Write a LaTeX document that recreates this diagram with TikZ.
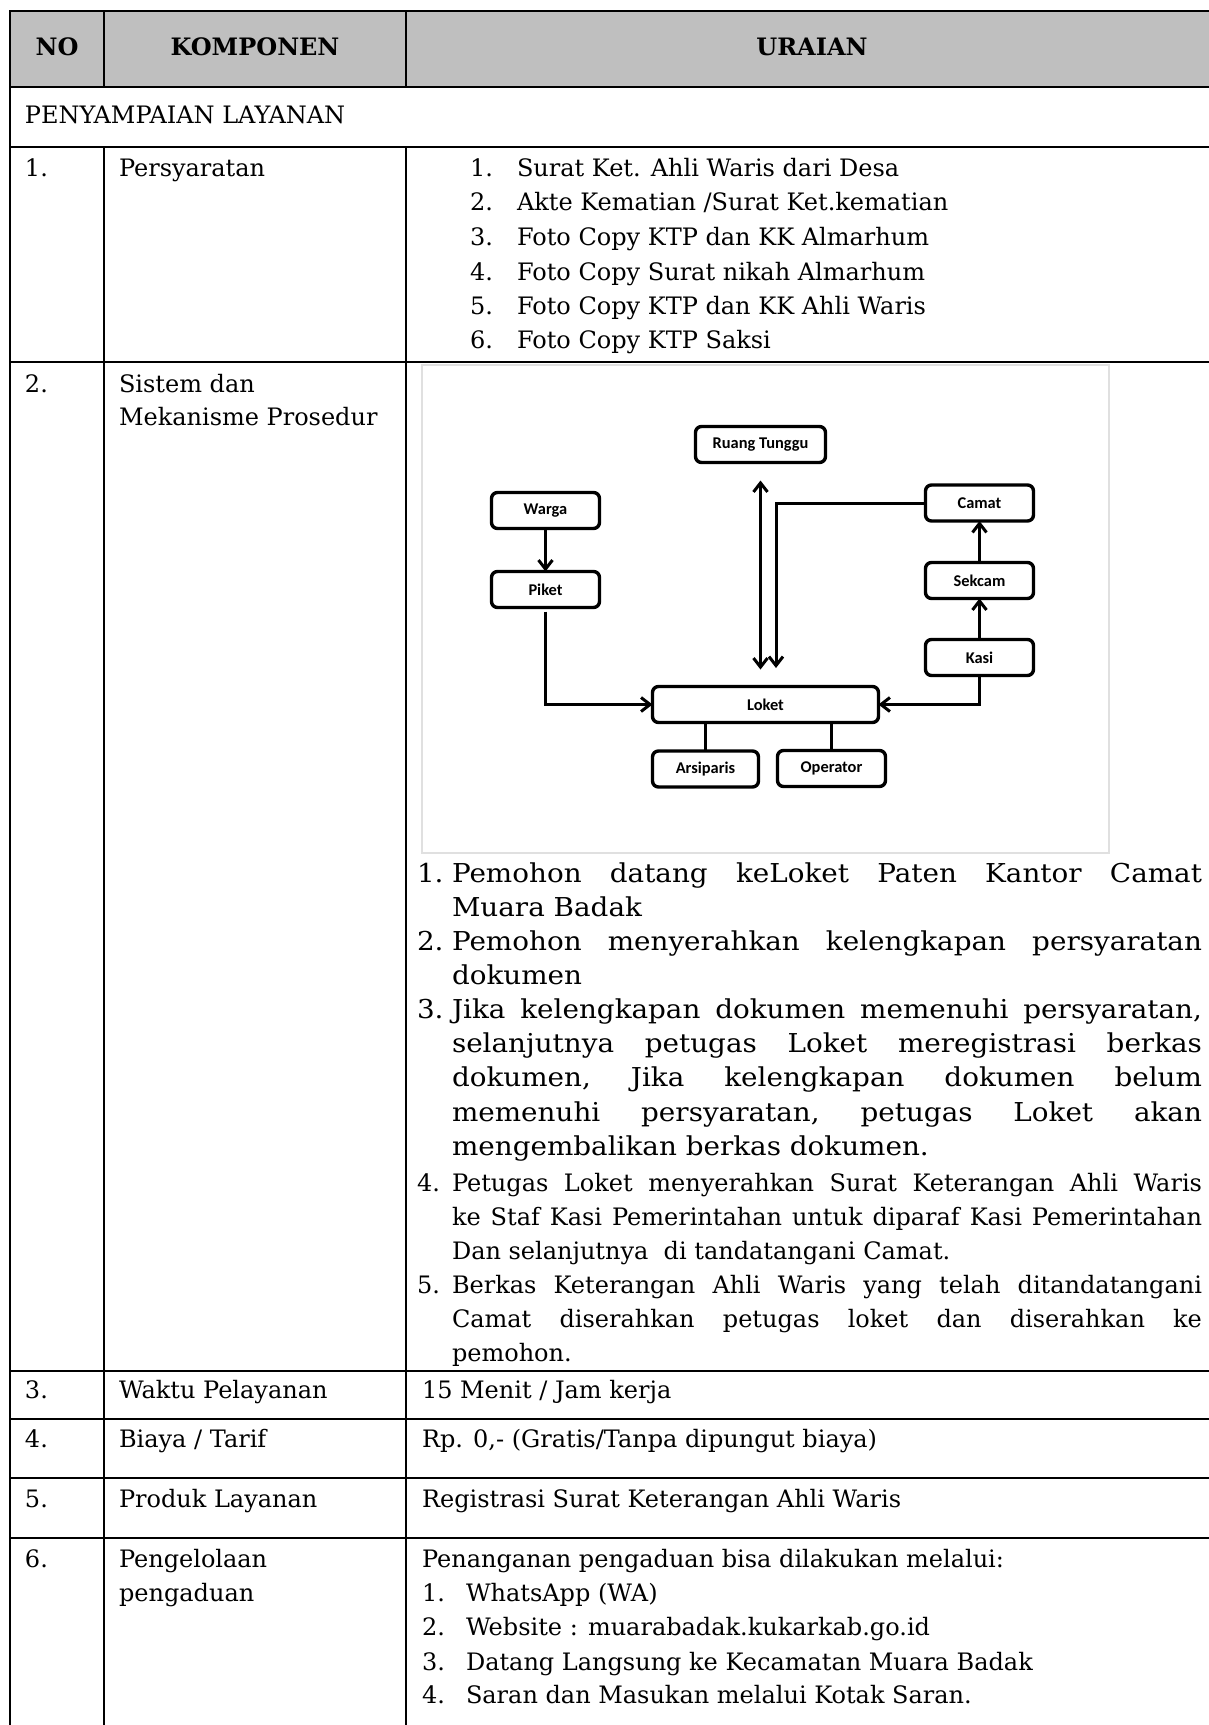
\documentclass[tikz,border=0pt]{standalone}
\usepackage{fontspec}
\setmainfont{DejaVu Serif}
\newfontfamily\bigfont[FakeStretch=1.07]{DejaVu Serif}
\newfontfamily\diafont{Carlito}
\usetikzlibrary{arrows.meta}
\definecolor{hdrgrey}{RGB}{191,191,191}
\tolerance=10000
\hyphenpenalty=10000
\begin{document}
\begin{tikzpicture}[x=0.5pt,y=-0.5pt,
  tline/.style={line width=1pt,line cap=rect},
  txt/.style={anchor=base west,inner sep=0pt,outer sep=0pt,font=\fontsize{12}{17.1}\selectfont},
  bigtxt/.style={anchor=base west,inner sep=0pt,outer sep=0pt,font=\bigfont\fontsize{13}{17.1}\selectfont},
  hdr/.style={anchor=base,inner sep=0pt,outer sep=0pt,font=\fontsize{12}{17.1}\selectfont\bfseries},
  para/.style={anchor=base west,inner sep=0pt,outer sep=0pt,text width=375pt,align=justify,font=\fontsize{12}{17.1}\selectfont},
  bigpara/.style={para,font=\bigfont\fontsize{13}{17.1}\selectfont},
  box/.style={draw,line width=1.7pt,rounded corners=3pt,inner sep=0pt,outer sep=0pt,minimum width=54pt,minimum height=18pt,font=\diafont\bfseries\fontsize{8.2}{9.6}\selectfont},
  arr/.style={line width=1.5pt,-{Straight Barb[length=4.5pt,width=7pt]}},
  dbl/.style={line width=1.5pt,{Straight Barb[length=4.5pt,width=7pt]}-{Straight Barb[length=4.5pt,width=7pt]}},
  link/.style={line width=1.5pt}
]
\useasboundingbox (0,0) rectangle (1209,1725);
\fill[white] (0,0) rectangle (1209,1725);
% ---------- table frame ----------
\fill[hdrgrey] (10,10.5) rectangle (1212,87);
\foreach \yy in {10.5,87,147,362,1371,1419,1478,1538}
  \draw[tline] (10,\yy) -- (1212,\yy);
\draw[tline] (10,10.5) -- (10,1730);
\draw[tline] (104,10.5) -- (104,87);
\draw[tline] (406,10.5) -- (406,87);
\draw[tline] (104,147) -- (104,1730);
\draw[tline] (406,147) -- (406,1730);
% ---------- header ----------
\node[hdr] (hno) at (57,55) {NO};
\node[hdr] (hkomp) at (255,55) {KOMPONEN};
\node[hdr] (hur) at (812,55) {URAIAN};
\node[txt] (sec) at (25,123) {PENYAMPAIAN LAYANAN};
% ---------- row 1 ----------
\node[txt] (n1) at (25,176) {1.};
\node[txt] (k1) at (119,176) {Persyaratan};
\node[txt] (r1a) at (470,176) {1.};
\node[txt] (r1at) at (517,176) {Surat Ket. Ahli Waris dari Desa};
\node[txt] (r1b) at (470,210.5) {2.};
\node[txt] (r1bt) at (517,210.5) {Akte Kematian /Surat Ket.kematian};
\node[txt] (r1c) at (470,245) {3.};
\node[txt] (r1ct) at (517,245) {Foto Copy KTP dan KK Almarhum};
\node[txt] (r1d) at (470,280) {4.};
\node[txt] (r1dt) at (517,280) {Foto Copy Surat nikah Almarhum};
\node[txt] (r1e) at (470,314.5) {5.};
\node[txt] (r1et) at (517,314.5) {Foto Copy KTP dan KK Ahli Waris};
\node[txt] (r1f) at (470,348.5) {6.};
\node[txt] (r1ft) at (517,348.5) {Foto Copy KTP Saksi};
% ---------- row 2 ----------
\node[txt] (n2) at (25,392) {2.};
\node[txt] (k2a) at (119,392) {Sistem dan};
\node[txt] (k2b) at (119,425) {Mekanisme Prosedur};
% diagram picture frame
\draw[black!12,line width=0.6pt] (422,365) rectangle (1109,853);
% diagram nodes
\node[box,minimum width=65pt] (ruang) at (760.5,444.5) {Ruang Tunggu};
\node[box] (warga) at (545.5,510.5) {Warga};
\node[box] (piket) at (545.5,589.5) {Piket};
\node[box] (camat) at (979.5,503) {Camat};
\node[box] (sekcam) at (979.5,580.5) {Sekcam};
\node[box] (kasi) at (979.5,657.5) {Kasi};
\node[box,minimum width=113pt] (loket) at (765.5,704.5) {Loket};
\node[box,minimum width=53pt] (arsiparis) at (705.5,769) {Arsiparis};
\node[box] (operator) at (831.5,768.5) {Operator};
% diagram connectors
\draw[arr] (warga.south) -- (piket.north);
\draw[arr] ([yshift=-2pt]piket.south) |- (loket.west);
\coordinate (dtop) at ([yshift=-9pt]ruang.south);
\coordinate (dbot) at (dtop |- loket.north);
\draw[dbl] (dtop) -- ([yshift=8.5pt]dbot);
\coordinate (cbot) at (776,668);
\draw[arr] (camat.west) -| (cbot);
\draw[arr] (sekcam.north) -- (camat.south);
\draw[arr] (kasi.north) -- (sekcam.south);
\draw[arr] (kasi.south) |- (loket.east);
\draw[link] (arsiparis.north) -- (arsiparis.north |- loket.south);
\draw[link] (operator.north) -- (operator.north |- loket.south);
% procedure list
\node[bigtxt] (p1n) at (417,882) {1.};
\node[bigpara] (p1) at (452,882) {Pemohon~datang~keLoket~Paten~Kantor~Camat\linebreak Muara~Badak};
\node[bigtxt] (p2n) at (417,950.5) {2.};
\node[bigpara] (p2) at (452,950.5) {Pemohon~menyerahkan~kelengkapan~persyaratan\linebreak dokumen};
\node[bigtxt] (p3n) at (417,1018.5) {3.};
\node[bigpara] (p3) at (452,1018.5) {Jika~kelengkapan~dokumen~memenuhi~persyaratan,\linebreak selanjutnya~petugas~Loket~meregistrasi~berkas\linebreak dokumen,~Jika~kelengkapan~dokumen~belum\linebreak memenuhi~persyaratan,~petugas~Loket~akan\linebreak mengembalikan~berkas~dokumen.};
\node[txt] (p4n) at (417,1191.5) {4.};
\node[para] (p4) at (452,1191.5) {Petugas~Loket~menyerahkan~Surat~Keterangan~Ahli~Waris\linebreak ke~Staf~Kasi~Pemerintahan~untuk~diparaf~Kasi~Pemerintahan\linebreak Dan~selanjutnya~~di~tandatangani~Camat.};
\node[txt] (p5n) at (417,1293) {5.};
\node[para] (p5) at (452,1293) {Berkas~Keterangan~Ahli~Waris~yang~telah~ditandatangani\linebreak Camat~diserahkan~petugas~loket~dan~diserahkan~ke\linebreak pemohon.};
% ---------- row 3 ----------
\node[txt] (n3) at (25,1398) {3.};
\node[txt] (k3) at (119,1398) {Waktu Pelayanan};
\node[txt] (u3) at (422,1398) {15 Menit / Jam kerja};
% ---------- row 4 ----------
\node[txt] (n4) at (25,1447) {4.};
\node[txt] (k4) at (119,1447) {Biaya / Tarif};
\node[txt] (u4) at (422,1447) {Rp. 0,- (Gratis/Tanpa dipungut biaya)};
% ---------- row 5 ----------
\node[txt] (n5) at (25,1507) {5.};
\node[txt] (k5) at (119,1507) {Produk Layanan};
\node[txt] (u5) at (422,1507) {Registrasi Surat Keterangan Ahli Waris};
% ---------- row 6 ----------
\node[txt] (n6) at (25,1567) {6.};
\node[txt] (k6a) at (119,1567) {Pengelolaan};
\node[txt] (k6b) at (119,1601.5) {pengaduan};
\node[txt] (u6) at (422,1567) {Penanganan pengaduan bisa dilakukan melalui:};
\node[txt] (u6a) at (422,1601.5) {1.};
\node[txt] (u6at) at (466,1601.5) {WhatsApp (WA)};
\node[txt] (u6b) at (422,1635.5) {2.};
\node[txt] (u6bt) at (466,1635.5) {Website : muarabadak.kukarkab.go.id};
\node[txt] (u6c) at (422,1670) {3.};
\node[txt] (u6ct) at (466,1670) {Datang Langsung ke Kecamatan Muara Badak};
\node[txt] (u6d) at (422,1703.5) {4.};
\node[txt] (u6dt) at (466,1703.5) {Saran dan Masukan melalui Kotak Saran.};
\end{tikzpicture}
\end{document}
